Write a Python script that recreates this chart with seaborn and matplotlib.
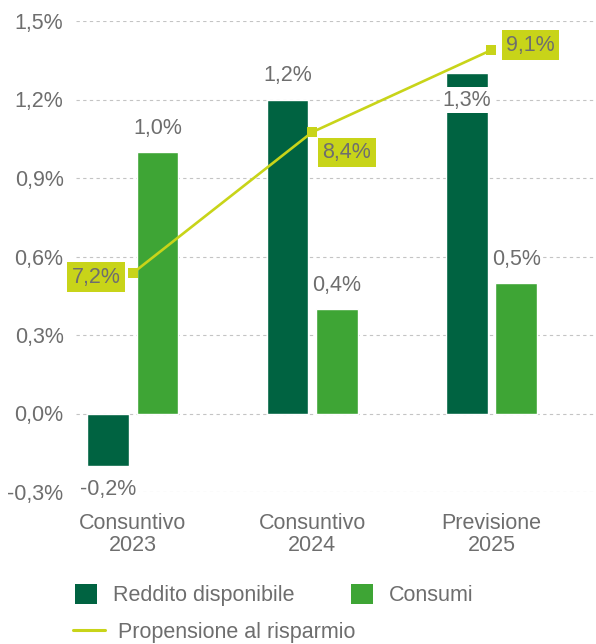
import matplotlib
matplotlib.use("Agg")
import matplotlib.pyplot as plt
from matplotlib.patches import Patch
from matplotlib.lines import Line2D
import seaborn as sns
import pandas as pd

# Data
periodi = ["Consuntivo\n2023", "Consuntivo\n2024", "Previsione\n2025"]
reddito = [-0.2, 1.2, 1.3]
consumi = [1.0, 0.4, 0.5]
propensione = [7.2, 8.4, 9.1]
serie = ["Reddito disponibile", "Consumi"]
serie_linea = "Propensione al risparmio"
yticks = [-0.3, 0.0, 0.3, 0.6, 0.9, 1.2, 1.5]

C_REDDITO = "#006341"
C_CONSUMI = "#3ea535"
C_LINEA = "#c8d419"
C_TESTO = "#6e6e6e"

sns.set_style("white")
plt.rcParams["font.family"] = ["Liberation Sans", "DejaVu Sans"]
FS = 15.5


def pct(v):
    return f"{v:.1f}%".replace(".", ",")


df = pd.DataFrame({
    "periodo": periodi * 2,
    "valore": reddito + consumi,
    "serie": [serie[0]] * 3 + [serie[1]] * 3,
})

fig = plt.figure(figsize=(5.96, 6.44), dpi=100)
ax = fig.add_axes([76 / 596, 1 - 492 / 644, 1 - 76 / 596, (492 - 21) / 644])

sns.barplot(data=df, x="periodo", y="valore", hue="serie", order=periodi,
            hue_order=serie, palette=[C_REDDITO, C_CONSUMI], width=0.55,
            gap=0.15, saturation=1, legend=False, ax=ax, errorbar=None)

ax.set_ylim(-0.3, 1.5)
ax.set_xlim(-0.317, 2.583)
ax.set_yticks(yticks)
ax.set_yticklabels([pct(v) for v in yticks])
ax.set_xlabel("")
ax.set_ylabel("")
for s in ax.spines.values():
    s.set_visible(False)
ax.yaxis.grid(True, linestyle=(0, (3, 3)), color="#c4c4c4", linewidth=0.8)
ax.set_axisbelow(True)
ax.tick_params(axis="y", length=0, pad=9, labelsize=FS, labelcolor=C_TESTO)
ax.tick_params(axis="x", length=0, pad=15, labelsize=FS, labelcolor=C_TESTO)
for t in ax.get_xticklabels():
    t.set_linespacing(1.1)

# Bar value labels (offsets in points from the bar end)
bbox_w = dict(boxstyle="square,pad=0.12", fc="white", ec="none")
for k, cont in enumerate(ax.containers):
    vals = reddito if k == 0 else consumi
    for i, (bar, v) in enumerate(zip(cont, vals)):
        x = bar.get_x() + bar.get_width() / 2
        if k == 0 and i == 2:
            dy = -19.5   # sits inside the bar, below the line label
        elif v < 0:
            dy = -17
        else:
            dy = 17
        ax.annotate(pct(v), (x, v), xytext=(0, dy), textcoords="offset points",
                    ha="center", va="center", fontsize=FS, color=C_TESTO,
                    bbox=bbox_w, zorder=5, annotation_clip=False)

# Saving propensity line on a hidden secondary axis
ax2 = ax.twinx()
sns.lineplot(x=[0, 1, 2], y=propensione, ax=ax2, color=C_LINEA, linewidth=1.9,
             marker="s", markersize=6.5, markeredgewidth=0, legend=False)
ax2.set_ylim(5.335, 9.347)
ax2.set_axis_off()

bbox_y = dict(boxstyle="square,pad=0.2", fc=C_LINEA, ec="none")
line_offsets = [(-26.5, -3), (25, -14.5), (28, 3.5)]
for i, v in enumerate(propensione):
    ax2.annotate(pct(v), (i, v), xytext=line_offsets[i], textcoords="offset points",
                 ha="center", va="center", fontsize=FS, color=C_TESTO,
                 bbox=bbox_y, zorder=6, annotation_clip=False)

# Legend
h_bars = [Patch(facecolor=C_REDDITO, edgecolor="none"),
          Patch(facecolor=C_CONSUMI, edgecolor="none")]
leg1 = fig.legend(h_bars, serie, loc="upper left",
                  bbox_to_anchor=(75 / 596, 1 - 584 / 644), ncol=2, frameon=False,
                  fontsize=FS, labelcolor=C_TESTO, handlelength=1.03,
                  handleheight=1.03, handletextpad=0.75, columnspacing=2.6,
                  borderpad=0, borderaxespad=0)
h_line = [Line2D([0], [0], color=C_LINEA, linewidth=2.2)]
leg2 = fig.legend(h_line, [serie_linea], loc="upper left",
                  bbox_to_anchor=(73 / 596, 1 - 622 / 644), frameon=False,
                  fontsize=FS, labelcolor=C_TESTO, handlelength=1.5,
                  handletextpad=0.6, borderpad=0, borderaxespad=0)

fig.savefig("out.png", dpi=100)
